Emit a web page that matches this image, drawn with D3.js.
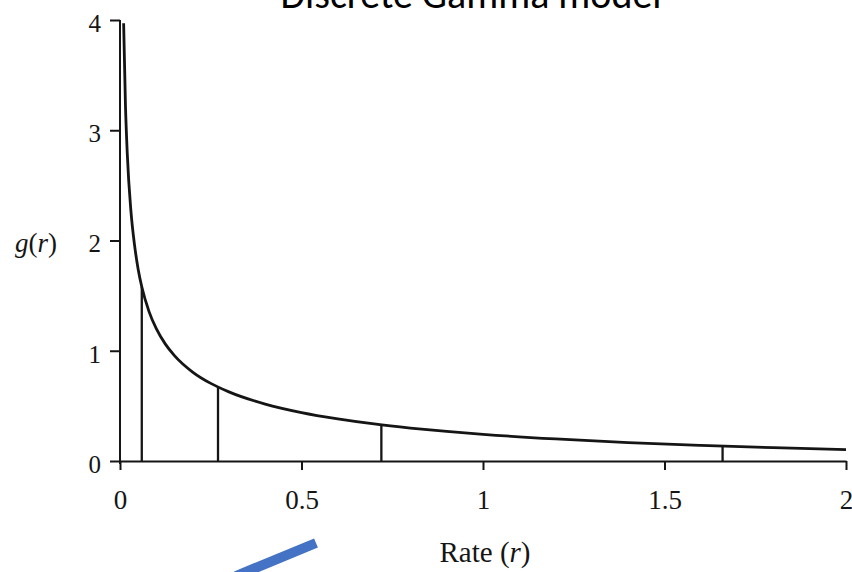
<!DOCTYPE html>
<html>
<head>
<meta charset="utf-8">
<script src="https://cdn.jsdelivr.net/npm/d3@7"></script>
<style>
  body { margin: 0; background: #fff; }
  svg { display: block; }
</style>
</head>
<body>
<div id="chart"></div>
<script>
// density curve: rate r and g(r)
const rates = [0.01, 0.015, 0.02, 0.03, 0.04, 0.05, 0.06, 0.08, 0.1, 0.125, 0.15, 0.2, 0.25, 0.3, 0.4, 0.5, 0.6, 0.7, 0.8, 0.9, 1.0, 1.2, 1.4, 1.6, 1.8, 2.0];
const densities = [3.97, 3.23, 2.79, 2.27, 1.96, 1.74, 1.58, 1.355, 1.2, 1.06, 0.956, 0.807, 0.704, 0.627, 0.516, 0.439, 0.382, 0.336, 0.299, 0.268, 0.242, 0.2, 0.167, 0.142, 0.121, 0.104];

// category boundaries (vertical lines) and where they meet the curve
const cuts = [0.06, 0.27, 0.72, 1.66];
const cutHeights = [1.58, 0.67, 0.33, 0.135];

const xTicks = [0, 0.5, 1, 1.5, 2];
const xTickLabels = ["0", "0.5", "1", "1.5", "2"];
const yTicks = [0, 1, 2, 3, 4];
const yTickLabels = ["0", "1", "2", "3", "4"];

const W = 852, H = 572;
const margin = { top: 20, right: 6, bottom: 111, left: 120 };
const height = H - margin.top - margin.bottom;

const xScale = d3.scaleLinear().domain([0, 2]).range([0, 726]);
const yScale = d3.scaleLinear().domain([0, 4]).range([height, 0]);

const svg = d3
  .select("#chart")
  .append("svg")
  .attr("width", W)
  .attr("height", H);

const g = svg.append("g").attr("transform", `translate(${margin.left}, ${margin.top})`);

const serif = "'Liberation Serif', 'DejaVu Serif', serif";
const ink = "#151515";

// y axis
const yAxis = g
  .append("g")
  .call(
    d3.axisLeft(yScale)
      .tickValues(yTicks)
      .tickFormat((d, i) => yTickLabels[i])
      .tickSize(10)
      .tickPadding(9)
      .tickSizeOuter(0)
  );
yAxis.select(".domain").remove();
yAxis.selectAll(".tick line").attr("stroke", ink).attr("stroke-width", 2);
yAxis
  .selectAll(".tick text")
  .attr("font-family", serif)
  .attr("font-size", 25)
  .attr("fill", ink)
  .attr("dy", "0.45em");
g.append("line")
  .attr("x1", 0).attr("x2", 0)
  .attr("y1", yScale(4)).attr("y2", height + 3)
  .attr("stroke", ink).attr("stroke-width", 2);

// x axis
const xAxis = g
  .append("g")
  .attr("transform", `translate(0, ${height})`)
  .call(
    d3.axisBottom(xScale)
      .tickValues(xTicks)
      .tickFormat((d, i) => xTickLabels[i])
      .tickSize(9)
      .tickPadding(20)
      .tickSizeOuter(0)
  );
xAxis.select(".domain").attr("stroke", ink).attr("stroke-width", 2);
xAxis.selectAll(".tick line").attr("stroke", ink).attr("stroke-width", 2);
xAxis
  .selectAll(".tick text")
  .attr("font-family", serif)
  .attr("font-size", 27)
  .attr("fill", ink);

// category boundaries
g.selectAll(".cut")
  .data(cuts)
  .enter()
  .append("line")
  .attr("class", "cut")
  .attr("x1", (d) => xScale(d))
  .attr("x2", (d) => xScale(d))
  .attr("y1", yScale(0))
  .attr("y2", (d, i) => yScale(cutHeights[i]))
  .attr("stroke", ink)
  .attr("stroke-width", 2.3);

// density curve
const pts = rates.map((r, i) => [r, densities[i]]);
g.append("path")
  .datum(pts)
  .attr("fill", "none")
  .attr("stroke", ink)
  .attr("stroke-width", 2.8)
  .attr(
    "d",
    d3.line()
      .x((d) => xScale(d[0]))
      .y((d) => yScale(d[1]))
      .curve(d3.curveMonotoneX)
  );

// axis titles
const yLab = svg
  .append("text")
  .attr("x", 15)
  .attr("y", 252)
  .attr("font-family", serif)
  .attr("font-size", 27)
  .attr("fill", ink);
yLab.append("tspan").attr("font-style", "italic").text("g");
yLab.append("tspan").text("(");
yLab.append("tspan").attr("font-style", "italic").text("r");
yLab.append("tspan").text(")");

const xLab = svg
  .append("text")
  .attr("x", margin.left + xScale(1) + 2)
  .attr("y", 562)
  .attr("text-anchor", "middle")
  .attr("font-family", serif)
  .attr("font-size", 29)
  .attr("fill", ink);
xLab.append("tspan").text("Rate (");
xLab.append("tspan").attr("font-style", "italic").text("r");
xLab.append("tspan").text(")");

// title, cut off at the top edge as in the source
svg
  .append("text")
  .attr("x", 471)
  .attr("y", 8)
  .attr("text-anchor", "middle")
  .attr("font-family", "Carlito, 'Open Sans', 'Noto Sans', sans-serif")
  .attr("font-size", 40)
  .attr("fill", "#000")
  .text("Discrete Gamma model");

// blue stroke at the bottom
svg
  .append("line")
  .attr("x1", 236)
  .attr("y1", 576)
  .attr("x2", 316)
  .attr("y2", 543)
  .attr("stroke", "#4472c4")
  .attr("stroke-width", 10);
</script>
</body>
</html>
